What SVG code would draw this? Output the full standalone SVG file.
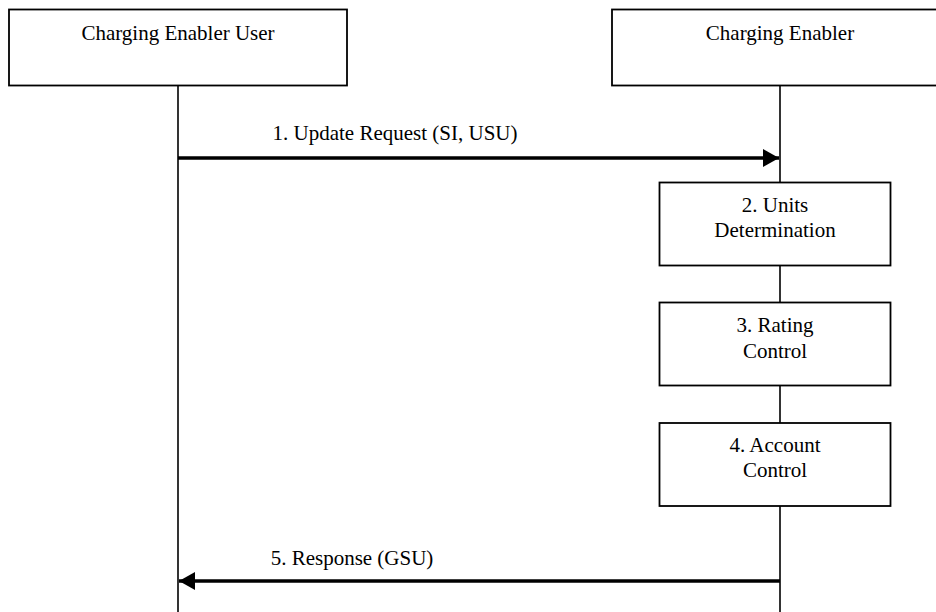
<svg xmlns="http://www.w3.org/2000/svg" width="936" height="612" viewBox="0 0 936 612">
<style>
.box{fill:#fff;stroke:#000;stroke-width:1.8}
.life{stroke:#000;stroke-width:1.6;fill:none}
.msg{stroke:#000;stroke-width:3.6;fill:none}
.t{font-family:"Liberation Serif","Times New Roman",serif;font-size:21px;fill:#000;text-anchor:middle}
</style>
<defs>
<marker id="ah" viewBox="0 0 16 18" refX="16" refY="9" markerWidth="16" markerHeight="18" markerUnits="userSpaceOnUse" orient="auto">
<path d="M0,0 L16,9 L0,18 Z" fill="#000"/>
</marker>
</defs>
<g id="lifelines">
<line class="life" x1="178" y1="86" x2="178" y2="612"/>
<line class="life" x1="780" y1="86" x2="780" y2="612"/>
</g>
<g id="connectors">
<line class="msg" x1="178" y1="158" x2="779" y2="158" marker-end="url(#ah)"/>
<line class="msg" x1="780" y1="581" x2="179" y2="581" marker-end="url(#ah)"/>
<text class="t" x="395" y="140">1. Update Request (SI, USU)</text>
<text class="t" x="352" y="565">5. Response (GSU)</text>
</g>
<g id="user">
<rect class="box" x="9" y="9.5" width="338" height="76"/>
<text class="t" x="178" y="40">Charging Enabler User</text>
</g>
<g id="enabler">
<rect class="box" x="612" y="9.5" width="338" height="76"/>
<text class="t" x="780" y="40">Charging Enabler</text>
</g>
<g id="units">
<rect class="box" x="659.5" y="182.5" width="231" height="83"/>
<text class="t" x="775" y="212">2. Units</text>
<text class="t" x="775" y="237">Determination</text>
</g>
<g id="rating">
<rect class="box" x="659.5" y="302.5" width="231" height="83"/>
<text class="t" x="775" y="332">3. Rating</text>
<text class="t" x="775" y="358">Control</text>
</g>
<g id="account">
<rect class="box" x="659.5" y="423" width="231" height="83"/>
<text class="t" x="775" y="452">4. Account</text>
<text class="t" x="775" y="477">Control</text>
</g>
</svg>
